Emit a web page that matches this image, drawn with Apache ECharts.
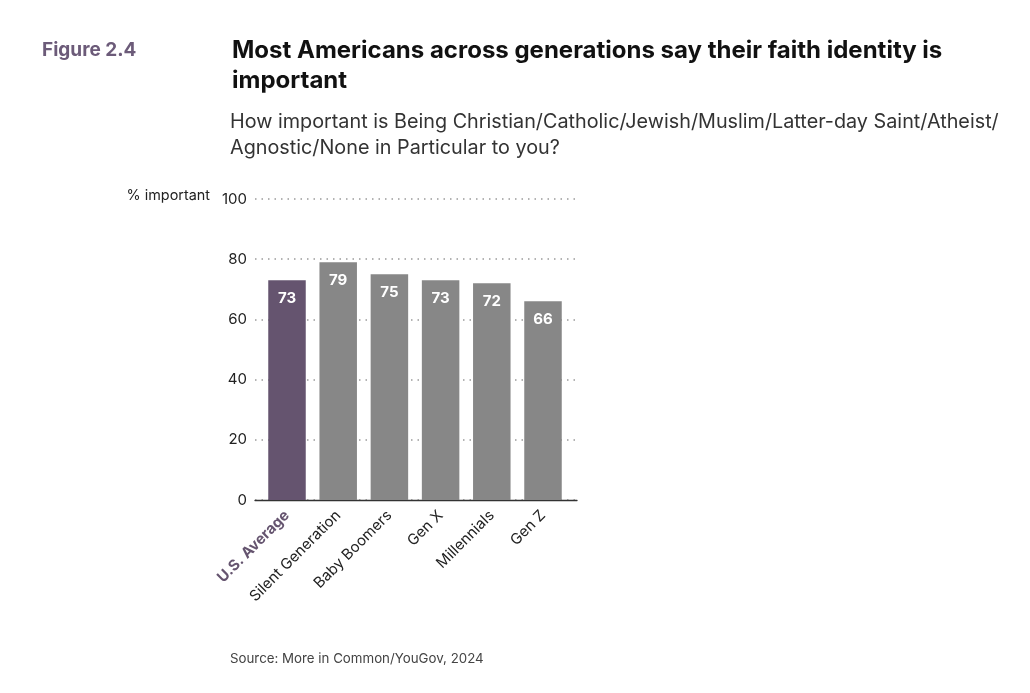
<!DOCTYPE html>
<html><head><meta charset="utf-8">
<script src="https://cdn.jsdelivr.net/npm/echarts@6/dist/echarts.min.js"></script>
<style>html,body{margin:0;padding:0;background:#fff}#c{width:1030px;height:693px}</style>
</head><body><div id="c"></div>
<script>
const categories = ['U.S. Average','Silent Generation','Baby Boomers','Gen X','Millennials','Gen Z'];
const values = [73, 79, 75, 73, 72, 66];
const yTicks = [0, 20, 40, 60, 80, 100];
const highlightIndex = 0;

const PURPLE = '#65546f';
const GRAY = '#878787';
const FONT = 'Inter, Lato, sans-serif';

const chart = echarts.init(document.getElementById('c'));
const gTop = 199, gBottom = 693 - 500;
chart.setOption({
  animation: false,
  backgroundColor: '#fff',
  textStyle: { fontFamily: FONT },
  title: [
    { text: 'Figure 2.4', left: 42, top: 41, padding: 0, textStyle: { fontFamily: FONT, fontSize: 19, fontWeight: 'bold', color: '#6c5b79' } },
    { text: 'Most Americans across generations say their faith identity is\nimportant', left: 232, top: 36, padding: 0,
      textStyle: { fontFamily: FONT, fontSize: 24, fontWeight: 'bold', color: '#111', lineHeight: 30 } },
    { text: 'How important is Being Christian/Catholic/Jewish/Muslim/Latter-day Saint/Atheist/\nAgnostic/None in Particular to you?', left: 230, top: 109, padding: 0,
      textStyle: { fontFamily: FONT, fontSize: 19.8, fontWeight: 'normal', color: '#333', lineHeight: 26 } },
    { text: 'Source: More in Common/YouGov, 2024', left: 230, top: 652, padding: 0,
      textStyle: { fontFamily: FONT, fontSize: 13.3, fontWeight: 'normal', color: '#444' } }
  ],
  graphic: [
    { type: 'text', right: 1030 - 210, top: 189, style: { text: '% important', font: '14.4px ' + FONT, fill: '#222' } }
  ],
  grid: [
    { left: 255, right: 1030 - 577, top: gTop, bottom: gBottom },
    { left: 261.4, width: 307.2, top: gTop, bottom: gBottom }
  ],
  xAxis: [
    { type: 'category', gridIndex: 0, data: categories, axisLine: { show: true, lineStyle: { color: '#333', width: 1.3 } },
      axisTick: { show: false }, axisLabel: { show: false } },
    { type: 'category', gridIndex: 1, data: categories.map((c, i) => i === highlightIndex
        ? { value: c, textStyle: { color: PURPLE, fontWeight: 'bold' } } : c),
      axisLine: { show: false }, axisTick: { show: false },
      axisLabel: { rotate: 45, interval: 0, margin: 13, fontSize: 15, color: '#222', fontFamily: FONT } }
  ],
  yAxis: [
    { type: 'value', gridIndex: 0, min: yTicks[0], max: yTicks[yTicks.length - 1], interval: 20,
      axisLine: { show: false }, axisTick: { show: false },
      axisLabel: { fontSize: 15, color: '#222', margin: 8, fontFamily: FONT },
      splitLine: { lineStyle: { color: '#9a9a9a', type: [1.5, 5], width: 1.5 } } },
    { type: 'value', gridIndex: 1, min: 0, max: 100, show: false }
  ],
  series: [{
    type: 'bar', xAxisIndex: 1, yAxisIndex: 1, barWidth: 37.5,
    data: values.map((v, i) => ({ value: v, itemStyle: { color: i === highlightIndex ? PURPLE : GRAY } })),
    label: { show: true, position: 'insideTop', distance: 11, color: '#fff', fontWeight: 'bold', fontSize: 15, fontFamily: FONT }
  }]
});
</script></body></html>
